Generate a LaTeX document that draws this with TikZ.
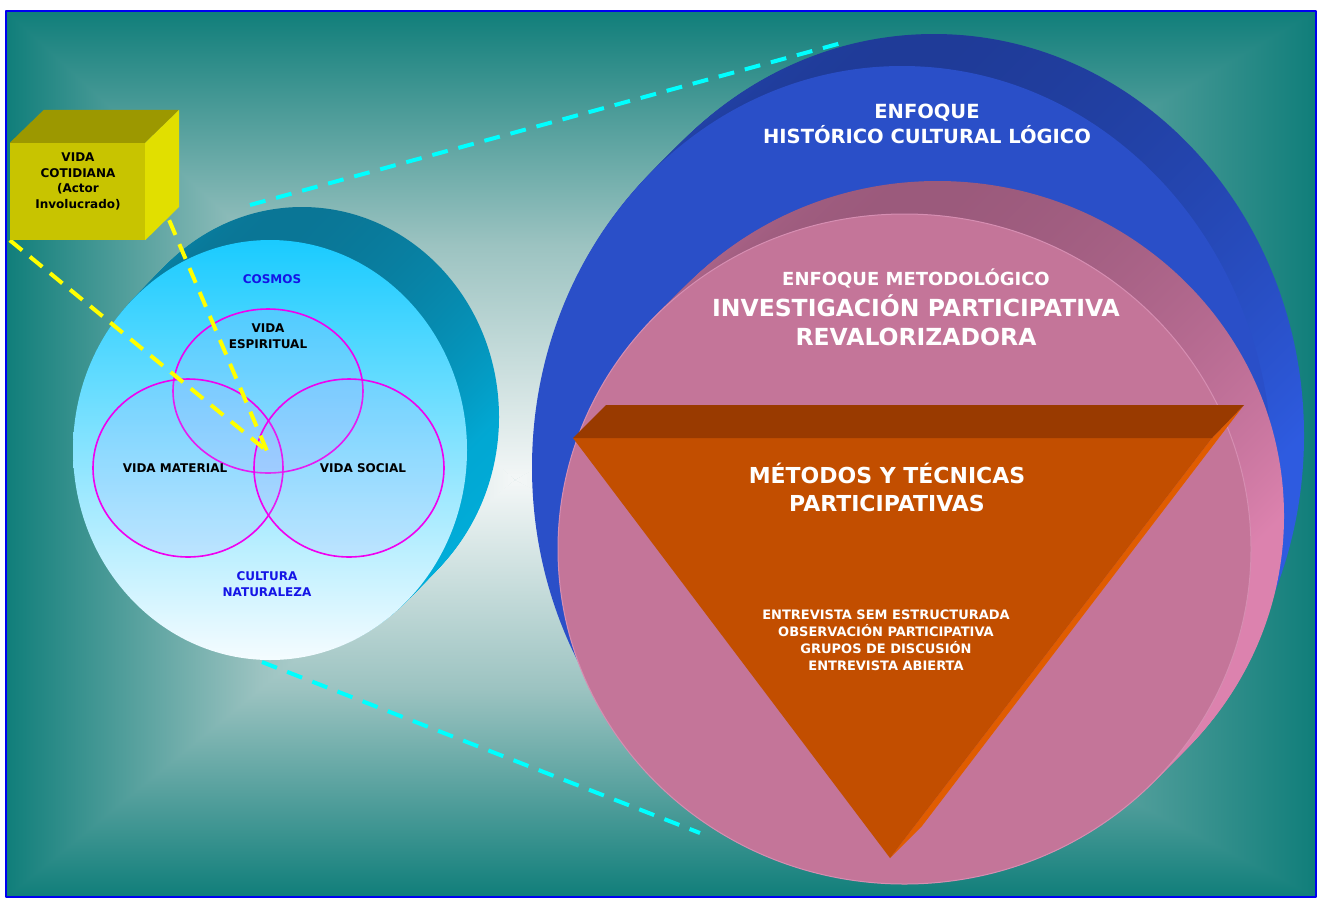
\documentclass[tikz,border=0pt]{standalone}
\usepackage{fontspec}
\setmainfont{DejaVu Sans}
\usepackage{xcolor}
\usetikzlibrary{positioning}

\definecolor{bgedge}{HTML}{107E7A}
\definecolor{bgmid}{HTML}{9CC3C1}
\definecolor{bglight}{HTML}{F4F7F7}
\definecolor{frameblue}{HTML}{0000F0}
\definecolor{zoomcyan}{RGB}{0,255,255}
\definecolor{actoryellow}{RGB}{255,255,0}
\definecolor{cubefront}{HTML}{C8C400}
\definecolor{cubetop}{HTML}{9C9800}
\definecolor{cubeside}{HTML}{E1DF00}
\definecolor{cyltop}{HTML}{0A7696}
\definecolor{cylside}{HTML}{00B0DD}
\definecolor{cylfronttop}{HTML}{1ACBFF}
\definecolor{cylfrontbot}{HTML}{F5FCFF}
\definecolor{ringmag}{HTML}{F000F0}
\definecolor{ringfill}{HTML}{B4A8FF}
\definecolor{textblue}{HTML}{1414E6}
\definecolor{bluedark}{HTML}{1F3B98}
\definecolor{bluebright}{HTML}{2E5BE0}
\definecolor{bluefront}{HTML}{2A4FC8}
\definecolor{pinkdark}{HTML}{9B5A7C}
\definecolor{pinkbright}{HTML}{DC82AE}
\definecolor{pinkfront}{HTML}{C47599}
\definecolor{pinkedge}{HTML}{D68EB2}
\definecolor{orfront}{HTML}{C24E00}
\definecolor{ortop}{HTML}{993A00}
\definecolor{orside}{HTML}{E05C00}

\begin{document}
\begin{tikzpicture}[x=1pt, y=-1pt, line join=round,
    yellowdash/.style={draw=actoryellow, line width=4pt, dash pattern=on 16pt off 10pt},
    cyandash/.style={draw=zoomcyan, line width=4pt, dash pattern=on 16pt off 11pt},
    vennring/.style={draw=ringmag, line width=1.6pt, fill=ringfill, fill opacity=0.16},
    darklabel/.style={font=\fontsize{12}{16}\selectfont\bfseries, text=black, align=center, inner sep=0pt},
    bluelabel/.style={darklabel, text=textblue},
    whitelabel/.style={text=white, align=center, inner sep=0pt},
    cubeface/.style={fill=cubefront, inner sep=0pt, minimum width=135pt, minimum height=97pt}]

    \useasboundingbox (0,0) rectangle (1319,898);
    \fill[white] (0,0) rectangle (1319,898);

    % background
    \coordinate (tl) at (6,11);
    \coordinate (tr) at (1316,11);
    \coordinate (bl) at (6,897);
    \coordinate (br) at (1316,897);
    \coordinate (glow) at (515,480);
    \fill[bgmid] (tl) rectangle (br);
    \shade[top color=bgedge, bottom color=bglight, middle color=bgmid]
        (glow) -- (6,32) -- (tl) -- (tr) -- (1316,32) -- cycle;
    \shade[top color=bglight, bottom color=bgedge, middle color=bgmid]
        (glow) -- (6,876) -- (bl) -- (br) -- (1316,876) -- cycle;
    \shade[left color=bgedge, right color=bglight, middle color=bgmid] (glow) -- (tl) -- (bl) -- cycle;
    \shade[left color=bglight, right color=bgedge, middle color=bgmid] (glow) -- (tr) -- (br) -- cycle;

    % zoom lines
    \coordinate (zoomtop) at (250,205);
    \coordinate (zoomtopend) at (845,42);
    \coordinate (zoombot) at (262,662);
    \coordinate (zoombotend) at (700,833);
    \draw[cyandash] (zoomtop) -- (zoomtopend);
    \draw[cyandash] (zoombot) -- (zoombotend);

    % cosmos cylinder
    \foreach \k in {33,32,...,1}
        \shade[top color=cyltop, bottom color=cylside, middle color=cylside!85!cyltop]
            ({270+\k*0.97},{450-\k}) ellipse [x radius=197, y radius=210];
    \shade[top color=cylfronttop, bottom color=cylfrontbot] (270,450) ellipse [x radius=197, y radius=210];

    \draw[vennring] (268,391) ellipse [x radius=95, y radius=82];
    \draw[vennring] (188,468) ellipse [x radius=95, y radius=89];
    \draw[vennring] (349,468) ellipse [x radius=95, y radius=89];

    \node[bluelabel] (cosmos) at (272,279) {COSMOS};
    \node[darklabel] (espiritual) at (268,336) {VIDA\\ESPIRITUAL};
    \node[darklabel] (material) at (175,468) {VIDA MATERIAL};
    \node[darklabel] (social) at (363,468) {VIDA SOCIAL};
    \node[bluelabel] (cultura) at (267,584) {CULTURA\\NATURALEZA};

    % actor cube
    \node[cubeface] (cubo) at (77.5,191.5) {};
    \coordinate (focus) at (267,451);
    \coordinate (cubeexit) at ([shift={(24,-20)}]cubo.south east);
    \draw[yellowdash] (cubo.south west) -- (focus);
    \draw[yellowdash] (cubeexit) -- (focus);
    \fill[cubefront] (cubo.north west) rectangle (cubo.south east);
    \fill[cubetop] (cubo.north west) -- (cubo.north east) -- ++(34,-33)
        -- ([shift={(34,-33)}]cubo.north west) -- cycle;
    \fill[cubeside] (cubo.north east) -- ++(34,-33) -- ++(0,97) -- (cubo.south east) -- cycle;
    \node[darklabel, font=\fontsize{12}{15.7}\selectfont\bfseries] (cotidiana) at (78,181.5)
        {VIDA\\COTIDIANA\\(Actor\\Involucrado)};

    % enfoque cylinders
    \foreach \k in {32,31,...,1}
        \shade[top color=bluedark, bottom color=bluebright, middle color=bluebright]
            ({902+\k},{467.5-\k}) ellipse [x radius=370, y radius=401.5];
    \fill[bluefront] (902,467.5) ellipse [x radius=370, y radius=401.5];

    \foreach \k in {33,32,...,1}
        \shade[top color=pinkdark, bottom color=pinkbright, middle color=pinkbright]
            ({904.5+\k},{549-\k}) ellipse [x radius=346.5, y radius=335];
    \fill[pinkfront, draw=pinkedge, line width=1pt] (904.5,549) ellipse [x radius=346.5, y radius=335];

    % metodos prism
    \coordinate (ta) at (573,438);
    \coordinate (tb) at (1212,438);
    \coordinate (tc) at (890,858);
    \fill[orside] (tb) -- ++(32,-33) -- ([shift={(32,-32)}]tc) -- (tc) -- cycle;
    \fill[orfront] (ta) -- (tb) -- (tc) -- cycle;
    \fill[ortop] (ta) -- ++(33,-33) -- ([shift={(32,-33)}]tb) -- (tb) -- cycle;

    \node[whitelabel, font=\fontsize{19.5}{25}\selectfont\bfseries] (historico) at (927,124)
        {ENFOQUE\\HISTÓRICO CULTURAL LÓGICO};
    \node[whitelabel, font=\fontsize{18}{22}\selectfont\bfseries] (metodologico) at (916,278)
        {ENFOQUE METODOLÓGICO};
    \node[whitelabel, font=\fontsize{23.5}{29}\selectfont\bfseries] (investigacion) at (916,320)
        {INVESTIGACIÓN PARTICIPATIVA\\REVALORIZADORA};
    \node[whitelabel, font=\fontsize{22}{28}\selectfont\bfseries] (metodos) at (887,487)
        {MÉTODOS Y TÉCNICAS\\PARTICIPATIVAS};
    \node[whitelabel, font=\fontsize{13}{17}\selectfont\bfseries] (tecnicas) at (886,640)
        {ENTREVISTA SEM ESTRUCTURADA\\OBSERVACIÓN PARTICIPATIVA\\GRUPOS DE DISCUSIÓN\\ENTREVISTA ABIERTA};

    \draw[frameblue, line width=2pt] (tl) rectangle (br);
\end{tikzpicture}
\end{document}
